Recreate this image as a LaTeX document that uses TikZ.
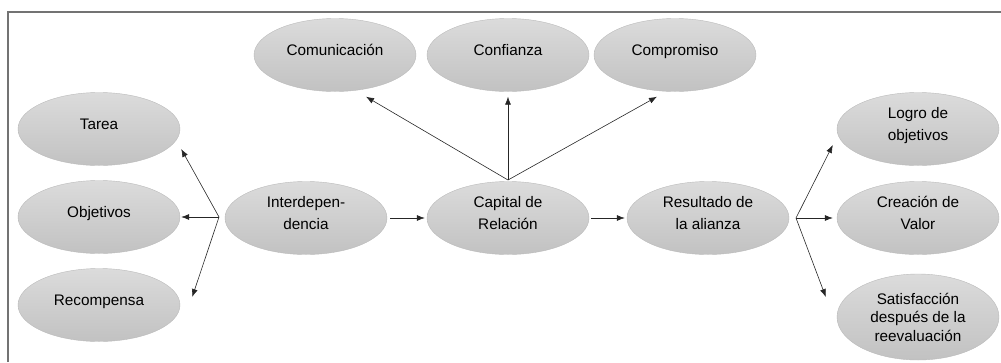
\documentclass[tikz,border=0pt]{standalone}
\usepackage{fontspec}
\setmainfont{Liberation Sans}
\usetikzlibrary{shapes.geometric,arrows.meta}

\begin{document}
\begin{tikzpicture}[x=1pt,y=-1pt,
  bubble/.style={ellipse,draw=black!27,top color=black!14,bottom color=black!24,
    minimum width=162pt,minimum height=73pt,inner sep=0pt,align=center,
    text depth=10pt,font=\fontsize{15.3}{21.5}\selectfont},
  bigbubble/.style={ellipse,draw=black!27,top color=black!14,bottom color=black!24,
    minimum width=162pt,minimum height=86pt,inner sep=0pt,align=center,
    font=\fontsize{15.3}{18.5}\selectfont},
  arr/.style={-{Latex[length=8pt,width=6pt]},line width=0.6pt,black!85}]
\useasboundingbox (0,0) rectangle (1001,362);

% frame (only top and left side show)
\draw[black!55,line width=1.6pt] (8,362) -- (8,12) -- (1001,12);

% top row
\node[bubble] (comun) at (335,55) {Comunicación};
\node[bubble] (confi) at (508,55) {Confianza};
\node[bubble] (compr) at (675,55) {Compromiso};

% left column
\node[bubble] (tarea) at (99,129) {Tarea};
\node[bubble] (objet) at (99,217) {Objetivos};
\node[bubble] (recom) at (99,305) {Recompensa};

% middle row
\node[bubble] (inter) at (306,218) {Interdepen-\\dencia};
\node[bubble] (capit) at (508,218) {Capital de\\Relación};
\node[bubble] (resul) at (708,218) {Resultado de\\la alianza};

% right column
\node[bubble] (logro) at (918,129) {Logro de\\objetivos};
\node[bubble] (creac) at (918,218) {Creación de\\Valor};
\node[bigbubble] (satis) at (918,317) {Satisfacción\\después de la\\reevaluación};

% branch points
\coordinate (bI) at (219,217);
\coordinate (bC) at (508,180);
\coordinate (bR) at (796,218);

\draw[arr] (bI) -- ([xshift=1pt,yshift=-20pt]tarea.east);
\draw[arr] (bI) -- ([xshift=1pt]objet.east);
\draw[arr] (bI) -- ([xshift=12pt,yshift=8pt]recom.east);

\draw[arr] (bC) -- ([xshift=31pt,yshift=-5pt]comun.south);
\draw[arr] (bC) -- ([yshift=-5pt]confi.south);
\draw[arr] (bC) -- ([xshift=-18pt,yshift=-5pt]compr.south);

\draw[arr,shorten <=3pt,shorten >=2pt] (inter.east) -- (capit.west);
\draw[arr,shorten <=2pt,shorten >=2pt] (capit.east) -- (resul.west);

\draw[arr] (bR) -- ([xshift=-4pt,yshift=-16pt]logro.west);
\draw[arr] (bR) -- ([xshift=-4pt]creac.west);
\draw[arr] (bR) -- ([xshift=-11pt,yshift=20pt]satis.west);
\end{tikzpicture}
\end{document}
